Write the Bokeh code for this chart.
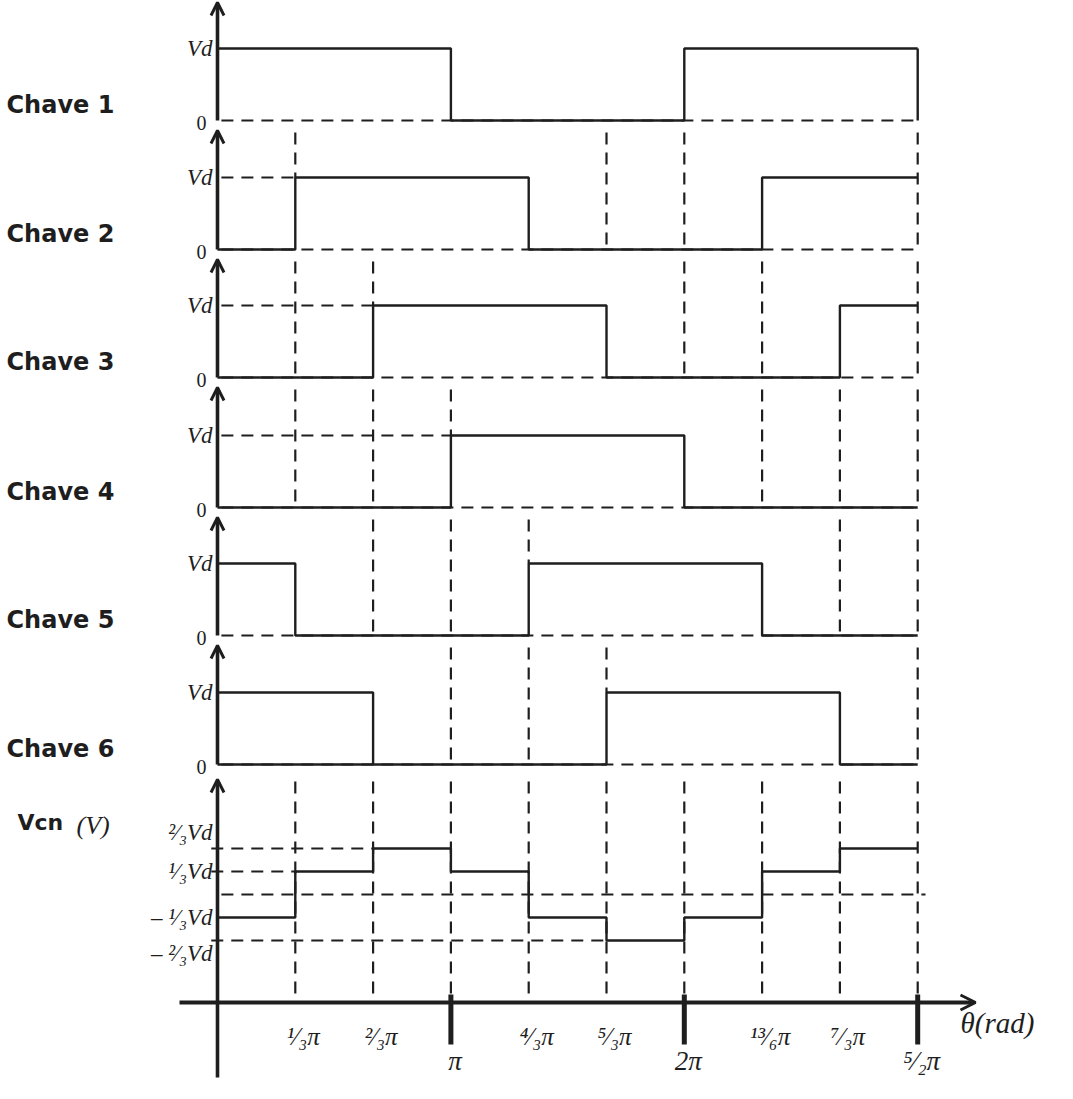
from bokeh.plotting import figure
from bokeh.models import Range1d, Arrow, OpenHead
from bokeh.core.properties import value
from bokeh.embed import file_html
from bokeh.resources import INLINE

# ---------------- data ----------------
sectors = [0, 1, 2, 3, 4, 5, 6, 7, 8, 9]          # boundaries, in units of pi/3
switch_names = ["Chave 1", "Chave 2", "Chave 3", "Chave 4", "Chave 5", "Chave 6"]
chave1 = [1, 1, 1, 0, 0, 0, 1, 1, 1]
chave2 = [0, 1, 1, 1, 0, 0, 0, 1, 1]
chave3 = [0, 0, 1, 1, 1, 0, 0, 0, 1]
chave4 = [0, 0, 0, 1, 1, 1, 0, 0, 0]
chave5 = [1, 0, 0, 0, 1, 1, 1, 0, 0]
chave6 = [1, 1, 0, 0, 0, 1, 1, 1, 0]
switches = [chave1, chave2, chave3, chave4, chave5, chave6]

vcn = [-1/3, 1/3, 2/3, 1/3, -1/3, -2/3, -1/3, 1/3, 2/3]
vcn_levels = [2/3, 1/3, -1/3, -2/3]
vcn_level_labels = ["²⁄₃Vd", "¹⁄₃Vd", "– ¹⁄₃Vd", "– ²⁄₃Vd"]

tick_small = [1, 2, 4, 5, 7, 8]
tick_small_labels = ["¹⁄₃π", "²⁄₃π", "⁴⁄₃π", "⁵⁄₃π", "¹³⁄₆π", "⁷⁄₃π"]
tick_big = [3, 6, 9]
tick_big_labels = ["π", "2π", "⁵⁄₂π"]

# dashed guide lines per switch panel: (sector, kind)
guides = [
    [],
    [(1, "above"), (5, "full"), (6, "full"), (9, "full")],
    [(1, "full"), (2, "above"), (6, "full"), (7, "full"), (9, "full")],
    [(1, "full"), (2, "full"), (3, "above"), (7, "full"), (8, "full"), (9, "full")],
    [(2, "full"), (3, "full"), (4, "above"), (8, "full"), (9, "full")],
    [(3, "full"), (4, "full"), (5, "above"), (9, "full")],
]

# ---------------- layout ----------------
W, H = 1057, 1083
X0 = 217.0          # pixel of theta = 0
SX = 77.8           # pixels per pi/3
BASE = [120, 249, 377, 507, 635, 764]   # baselines of switch panels (px from top)
VD_PX = 72.0
VCN_ZERO = 894.0
VCN_UNIT = 69.0

INK = "#1e1e1e"
SERIF = value("Liberation Serif")
SANS = value("DejaVu Sans")
DASH = "12 8"


def prange(base_px, unit):
    return Range1d(start=(base_px - H) / unit, end=base_px / unit)


def xpx(px):
    return (px - X0) / SX


p = figure(width=W, height=H, output_backend="svg", toolbar_location=None,
           x_range=Range1d(-X0 / SX, (W - X0) / SX), y_range=Range1d(0, H),
           x_axis_location=None, y_axis_location=None, min_border=0,
           outline_line_color=None)
p.grid.visible = False
p.background_fill_color = "white"

for i in range(6):
    p.extra_y_ranges[f"c{i}"] = prange(BASE[i], VD_PX)
p.extra_y_ranges["vcn"] = prange(VCN_ZERO, VCN_UNIT)

# ---------------- switch panels ----------------
for i, lev in enumerate(switches):
    rn = f"c{i}"
    top_px = BASE[i - 1] + 10 if i > 0 else 2
    top_v = (BASE[i] - top_px) / VD_PX
    guide_top = (BASE[i] - (BASE[i - 1] + 12)) / VD_PX if i > 0 else top_v

    # dashed baseline
    p.line([0.05, 9], [0, 0], line_dash=DASH, line_width=2.2, color=INK, y_range_name=rn)
    # dashed Vd reference up to first rise
    if lev[0] == 0:
        first = lev.index(1)
        p.line([0.05, first], [1, 1], line_dash=DASH, line_width=2.2, color=INK, y_range_name=rn)
    # guides
    for s, kind in guides[i]:
        p.line([s, s], [guide_top, 1 if kind == "above" else 0], line_dash=DASH,
               line_width=2.2, color=INK, y_range_name=rn)
    # waveform
    p.step(sectors, lev + [lev[-1]], mode="after", line_width=2.4, color=INK, y_range_name=rn)
    if i == 0:
        p.line([9, 9], [lev[-1], 0], line_width=2.4, color=INK, y_range_name=rn)
    if i == 5:
        p.line([0, 2], [0, 0], line_width=2.4, color=INK, y_range_name=rn)

    # axis arrow
    p.add_layout(Arrow(end=OpenHead(size=13, line_width=3, line_color=INK),
                       x_start=0, y_start=0, x_end=0, y_end=top_v,
                       line_width=3.6, line_color=INK, y_range_name=rn))
    # labels
    p.text([0], [1], text=["Vd"], text_font=SERIF, text_font_style="italic",
           text_font_size="23px", text_align="right", text_baseline="middle",
           x_offset=-5, text_color=INK, y_range_name=rn)
    p.text([0], [-0.03], text=["0"], text_font=SERIF, text_font_size="20px",
           text_align="right", text_baseline="middle", x_offset=-11,
           text_color=INK, y_range_name=rn)
    p.text([xpx(6)], [0.22], text=[switch_names[i]], text_font=SANS,
           text_font_style="bold", text_font_size="24px", text_align="left",
           text_baseline="middle", text_color=INK, y_range_name=rn)

# ---------------- Vcn panel ----------------
rn = "vcn"
axis_v = (VCN_ZERO - 1002) / VCN_UNIT
tip_v = (VCN_ZERO - 779) / VCN_UNIT
bottom_v = (VCN_ZERO - 1077) / VCN_UNIT
guide_top_v = (VCN_ZERO - 781) / VCN_UNIT

# level reference dashes
p.line([0.05, 9.1], [0, 0], line_dash=DASH, line_width=2.2, color=INK, y_range_name=rn)
for lv in vcn_levels:
    if lv in vcn and vcn.index(lv) > 0:
        p.line([-0.08, vcn.index(lv)], [lv, lv], line_dash=DASH, line_width=2.2,
               color=INK, y_range_name=rn)
# guides
for s in sectors[1:]:
    p.line([s, s], [guide_top_v, axis_v], line_dash=DASH, line_width=2.2,
           color=INK, y_range_name=rn)
# waveform
p.step(sectors, vcn + [vcn[-1]], mode="after", line_width=2.4, color=INK, y_range_name=rn)

# axes
p.add_layout(Arrow(end=OpenHead(size=13, line_width=3, line_color=INK),
                   x_start=0, y_start=bottom_v, x_end=0, y_end=tip_v,
                   line_width=3.6, line_color=INK, y_range_name=rn))
p.add_layout(Arrow(end=OpenHead(size=15, line_width=3, line_color=INK),
                   x_start=xpx(179), y_start=axis_v, x_end=xpx(975), y_end=axis_v,
                   line_width=4, line_color=INK, y_range_name=rn))
p.segment(x0=tick_big, y0=[(VCN_ZERO - 994) / VCN_UNIT] * 3, x1=tick_big,
          y1=[(VCN_ZERO - 1044) / VCN_UNIT] * 3, line_width=5, color=INK, y_range_name=rn)

# level labels
p.text([0] * 4, [vcn_levels[0] + 16 / VCN_UNIT, vcn_levels[1], vcn_levels[2],
                 vcn_levels[3] - 13 / VCN_UNIT],
       text=vcn_level_labels, text_font=SERIF, text_font_style="italic",
       text_font_size="23px", text_align="right", text_baseline="middle",
       x_offset=-5, text_color=INK, y_range_name=rn)
p.text([xpx(17)], [(VCN_ZERO - 822) / VCN_UNIT], text=["Vcn"], text_font=SANS,
       text_font_style="bold", text_font_size="22px", text_align="left",
       text_baseline="middle", text_color=INK, y_range_name=rn)
p.text([xpx(76)], [(VCN_ZERO - 825) / VCN_UNIT], text=["(V)"], text_font=SERIF,
       text_font_style="italic", text_font_size="26px", text_align="left",
       text_baseline="middle", text_color=INK, y_range_name=rn)

# tick labels
p.text(tick_small, [(VCN_ZERO - 1036) / VCN_UNIT] * len(tick_small), text=tick_small_labels,
       text_font=SERIF, text_font_style="italic", text_font_size="25px",
       text_align="center", text_baseline="middle", x_offset=8,
       text_color=INK, y_range_name=rn)
p.text(tick_big, [(VCN_ZERO - 1060) / VCN_UNIT] * len(tick_big), text=tick_big_labels,
       text_font=SERIF, text_font_style="italic", text_font_size="27px",
       text_align="center", text_baseline="middle", x_offset=4,
       text_color=INK, y_range_name=rn)
p.text([xpx(960)], [(VCN_ZERO - 1022) / VCN_UNIT], text=["θ(rad)"], text_font=SERIF,
       text_font_style="italic", text_font_size="29px", text_align="left",
       text_baseline="middle", text_color=INK, y_range_name=rn)

open("out.html", "w").write(file_html(p, INLINE))
